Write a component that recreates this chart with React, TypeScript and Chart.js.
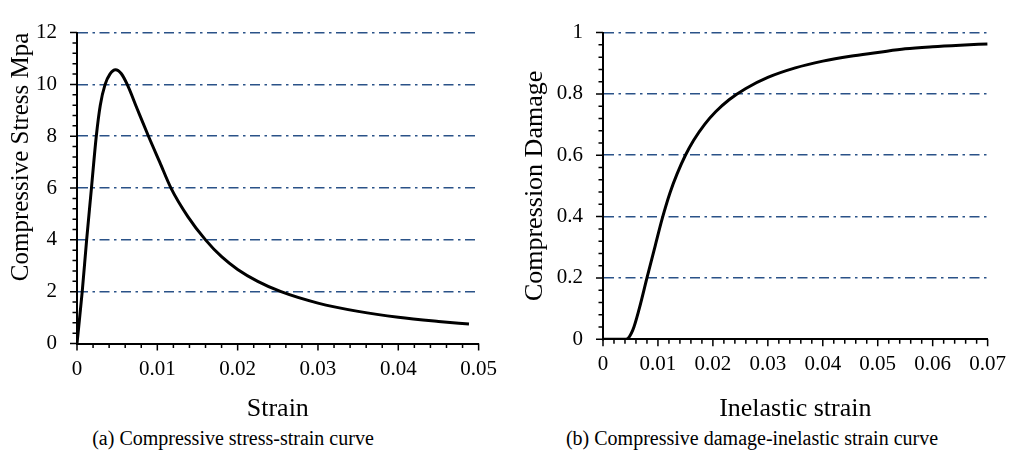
import { useEffect, useRef } from 'react';
import { Chart, registerables } from 'chart.js';

Chart.register(...registerables);

const FONT = "'Liberation Serif', 'Times New Roman', serif";

// (a) compressive stress-strain curve
const strainValues = [0, 0.00065, 0.0012, 0.0018, 0.0024, 0.0029, 0.0035, 0.0041, 0.0048, 0.0055, 0.00625, 0.0075, 0.0089, 0.0103, 0.0117, 0.0138, 0.016, 0.018, 0.02, 0.0225, 0.0254, 0.03, 0.035, 0.04, 0.045, 0.0488];
const stressValues = [0, 2, 4, 6, 8, 9.2, 10, 10.4, 10.57, 10.42, 10.0, 9.05, 8.0, 7.0, 6.0, 4.9, 4.0, 3.35, 2.86, 2.4, 2.0, 1.56, 1.24, 1.01, 0.85, 0.75];

// (b) compressive damage - inelastic strain curve
const inelasticStrainValues = [0, 0.002, 0.0042, 0.0054, 0.0066, 0.008, 0.0095, 0.0108, 0.0122, 0.0135, 0.015, 0.0165, 0.0185, 0.0205, 0.023, 0.026, 0.03, 0.035, 0.04, 0.045, 0.05, 0.055, 0.06, 0.065, 0.07];
const damageValues = [0, 0, 0, 0.029, 0.1, 0.2, 0.305, 0.395, 0.478, 0.54, 0.6, 0.649, 0.701, 0.742, 0.782, 0.818, 0.854, 0.885, 0.907, 0.923, 0.935, 0.947, 0.954, 0.959, 0.963];

// axis ranges / tick steps
const leftX = { min: 0, max: 0.05, step: 0.01, minor: 0.002 };
const leftY = { min: 0, max: 12, step: 2, minor: 0.4 };
const rightX = { min: 0, max: 0.07, step: 0.01, minor: 0.002 };
const rightY = { min: 0, max: 1, step: 0.2, minor: 0.04 };

const titles = {
  leftX: 'Strain',
  leftY: 'Compressive Stress Mpa',
  rightX: 'Inelastic strain',
  rightY: 'Compression Damage',
  captionA: '(a) Compressive stress-strain curve',
  captionB: '(b) Compressive damage-inelastic strain curve',
};

const GRID_COLOR = '#2A5288';

const fmt = (v: number) => String(Number(Number(v).toFixed(4)));

const axisTicksPlugin = {
  id: 'axisTicks',
  afterDraw(chart: any, _args: any, opts: any) {
    const { ctx, chartArea } = chart;
    const xs = chart.scales.x;
    const ys = chart.scales.y;
    ctx.save();
    ctx.strokeStyle = '#000';
    ctx.lineWidth = 1.5;
    ctx.beginPath();
    const nx = Math.round((opts.x.max - opts.x.min) / opts.x.minor);
    const xEvery = Math.round(opts.x.step / opts.x.minor);
    for (let i = 0; i <= nx; i++) {
      const v = opts.x.min + i * opts.x.minor;
      const px = xs.getPixelForValue(v);
      const len = i % xEvery === 0 ? 7 : 4.5;
      ctx.moveTo(px, chartArea.bottom);
      ctx.lineTo(px, chartArea.bottom + len);
    }
    const ny = Math.round((opts.y.max - opts.y.min) / opts.y.minor);
    const yEvery = Math.round(opts.y.step / opts.y.minor);
    for (let i = 0; i <= ny; i++) {
      const v = opts.y.min + i * opts.y.minor;
      const py = ys.getPixelForValue(v);
      const len = i % yEvery === 0 ? 7 : 4.5;
      ctx.moveTo(chartArea.left, py);
      ctx.lineTo(chartArea.left - len, py);
    }
    ctx.stroke();
    ctx.restore();
  },
};

function buildConfig(p: any) {
  const data = p.xs.map((x: number, i: number) => ({ x, y: p.ys[i] }));
  return {
    type: 'line',
    data: {
      datasets: [
        {
          data,
          borderColor: '#000',
          borderWidth: 3,
          pointRadius: 0,
          fill: false,
          cubicInterpolationMode: 'monotone',
        },
      ],
    },
    plugins: [axisTicksPlugin],
    options: {
      animation: false,
      responsive: false,
      maintainAspectRatio: false,
      devicePixelRatio: 1,
      layout: { padding: p.padding },
      plugins: {
        legend: { display: false },
        tooltip: { enabled: false },
        axisTicks: { x: p.xAxis, y: p.yAxis },
      },
      scales: {
        x: {
          type: 'linear',
          min: p.xAxis.min,
          max: p.xAxis.max,
          afterFit: (s: any) => {
            s.height = p.xHeight;
          },
          ticks: {
            stepSize: p.xAxis.step,
            color: '#000',
            font: { family: FONT, size: 21 },
            padding: 13,
            maxRotation: 0,
            autoSkip: false,
            callback: (v: any) => fmt(v),
          },
          grid: { display: false, drawTicks: false },
          border: { display: true, color: '#000', width: 2 },
          title: {
            display: true,
            text: p.xTitle,
            color: '#000',
            font: { family: FONT, size: 26 },
            padding: { top: 0, bottom: 0 },
          },
        },
        y: {
          type: 'linear',
          min: p.yAxis.min,
          max: p.yAxis.max,
          afterFit: (s: any) => {
            s.width = p.yWidth;
          },
          ticks: {
            stepSize: p.yAxis.step,
            color: '#000',
            font: { family: FONT, size: 21 },
            padding: 20,
            autoSkip: false,
            callback: (v: any) => fmt(v),
          },
          grid: {
            drawTicks: false,
            lineWidth: 1.6,
            color: (c: any) => (c.tick && Math.abs(c.tick.value) < 1e-9 ? 'rgba(0,0,0,0)' : GRID_COLOR),
          },
          border: { display: true, color: '#000', width: 2, dash: [10, 4.5, 2.5, 4.5] },
          title: {
            display: true,
            text: p.yTitle,
            color: '#000',
            align: p.yTitleAlign,
            font: { family: FONT, size: p.yTitleSize },
            padding: { top: p.yTitlePad, bottom: 0 },
          },
        },
      },
    },
  };
}

export default function App() {
  const leftRef = useRef<HTMLCanvasElement | null>(null);
  const rightRef = useRef<HTMLCanvasElement | null>(null);

  useEffect(() => {
    document.body.style.margin = '0';
    const left = new Chart(
      leftRef.current as HTMLCanvasElement,
      buildConfig({
        xs: strainValues,
        ys: stressValues,
        xAxis: leftX,
        yAxis: leftY,
        xTitle: titles.leftX,
        yTitle: titles.leftY,
        yTitleAlign: 'end',
        yTitleSize: 25,
        yTitlePad: 6,
        padding: { left: 0, top: 17, right: 28, bottom: 0 },
        yWidth: 77,
        xHeight: 81.5,
      }) as any
    );
    const right = new Chart(
      rightRef.current as HTMLCanvasElement,
      buildConfig({
        xs: inelasticStrainValues,
        ys: damageValues,
        xAxis: rightX,
        yAxis: rightY,
        xTitle: titles.rightX,
        yTitle: titles.rightY,
        yTitleAlign: 'center',
        yTitleSize: 26,
        yTitlePad: 10,
        padding: { left: 0, top: 15, right: 23, bottom: 0 },
        yWidth: 93,
        xHeight: 85.7,
      }) as any
    );
    return () => {
      left.destroy();
      right.destroy();
    };
  }, []);

  const captionStyle: any = {
    position: 'absolute',
    top: 426,
    width: 600,
    textAlign: 'center',
    fontFamily: FONT,
    fontSize: 20,
    lineHeight: '24px',
    color: '#000',
    whiteSpace: 'nowrap',
  };

  return (
    <div style={{ position: 'absolute', left: 0, top: 0, width: 1019, height: 466, background: '#fff', overflow: 'hidden' }}>
      <canvas ref={leftRef} width={510} height={425} style={{ position: 'absolute', left: 0, top: 0, width: 510, height: 425 }} />
      <canvas ref={rightRef} width={509} height={425} style={{ position: 'absolute', left: 510, top: 0, width: 509, height: 425 }} />
      <div style={{ ...captionStyle, left: 233 - 300 }}>{titles.captionA}</div>
      <div style={{ ...captionStyle, left: 752 - 300 }}>{titles.captionB}</div>
    </div>
  );
}
